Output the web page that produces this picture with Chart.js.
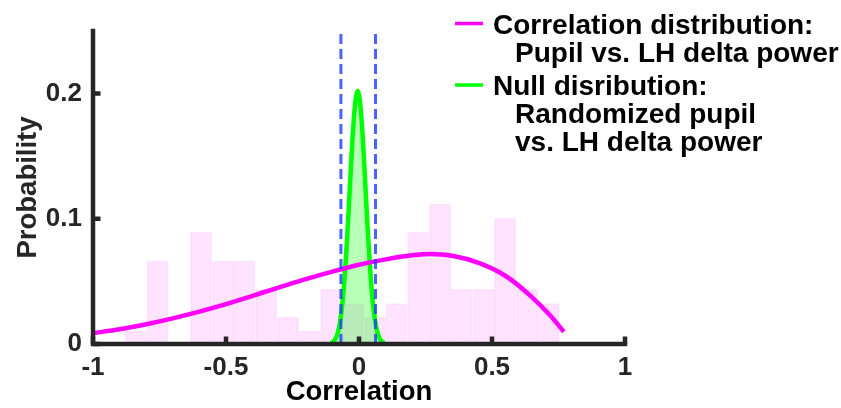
<!DOCTYPE html>
<html>
<head>
<meta charset="utf-8">
<script src="https://cdn.jsdelivr.net/npm/chart.js@4.4.1/dist/chart.umd.min.js"></script>
<style>
  html, body { margin: 0; padding: 0; background: #fff; }
</style>
</head>
<body>
<canvas id="myChart" width="841" height="408"></canvas>
<script>
// histogram of observed correlations (bin centres / probability)
const binCenters = [-0.839, -0.757, -0.676, -0.594, -0.512, -0.431, -0.349, -0.267, -0.186, -0.104,
  -0.022, 0.060, 0.141, 0.223, 0.305, 0.386, 0.468, 0.549, 0.631, 0.713];
const binProb = [0.0105, 0.0665, 0, 0.0893, 0.0665, 0.0665, 0.0438, 0.0215, 0.0105, 0.0438,
  0.0323, 0.0215, 0.0323, 0.0893, 0.112, 0.0438, 0.0438, 0.1006, 0.0438, 0.0323];

// fitted correlation distribution (magenta)
const corrX = [-1.0, -0.9, -0.8, -0.7, -0.6, -0.5, -0.4, -0.3, -0.2, -0.1,
  0.0, 0.1, 0.2, 0.27, 0.35, 0.45, 0.55, 0.65, 0.72, 0.77];
const corrY = [0.0087, 0.0118, 0.0158, 0.0205, 0.0258, 0.0318, 0.0385, 0.0452, 0.0518, 0.0578,
  0.0633, 0.0676, 0.0708, 0.0719, 0.0705, 0.0648, 0.0545, 0.0375, 0.0225, 0.0098];

// null distribution (green)
const nullX = [-0.105, -0.095, -0.085, -0.075, -0.065, -0.055, -0.045, -0.035, -0.025, -0.015, -0.005,
  0.005, 0.015, 0.025, 0.035, 0.045, 0.055, 0.065, 0.075, 0.085, 0.095];
const nullY = [0.0008, 0.0022, 0.0058, 0.0133, 0.0273, 0.0504, 0.083, 0.1226, 0.162, 0.191, 0.202,
  0.191, 0.162, 0.1226, 0.083, 0.0504, 0.0273, 0.0133, 0.0058, 0.0022, 0.0008];

// significance bounds of the null distribution
const sigBounds = [-0.068, 0.062];

const xTicks = [-1, -0.5, 0, 0.5, 1];
const yTicks = [0, 0.1, 0.2];
const yMax = 0.25;

const legendEntries = [
  { color: '#ff00ff', lines: ['Correlation distribution:', 'Pupil vs. LH delta power'] },
  { color: '#00ff00', lines: ['Null disribution:', 'Randomized pupil', 'vs. LH delta power'] },
];

const FONT = '"Liberation Sans", Arial, Helvetica, sans-serif';
const AXIS_COLOR = '#262626';

const toPoints = (xs, ys) => xs.map((v, i) => ({ x: v, y: ys[i] }));

// MATLAB style axes: thick left/bottom lines with inward ticks
const axesPlugin = {
  id: 'matlabAxes',
  afterDatasetsDraw(chart) {
    const { ctx, chartArea: a, scales } = chart;
    ctx.save();
    ctx.strokeStyle = AXIS_COLOR;
    ctx.lineWidth = 4.5;
    ctx.lineCap = 'square';
    ctx.lineJoin = 'miter';
    ctx.beginPath();
    ctx.moveTo(a.left, a.top);
    ctx.lineTo(a.left, a.bottom);
    ctx.lineTo(a.right, a.bottom);
    ctx.stroke();

    ctx.lineCap = 'butt';
    ctx.beginPath();
    xTicks.forEach((v) => {
      const px = scales.x.getPixelForValue(v);
      ctx.moveTo(px, a.bottom);
      ctx.lineTo(px, a.bottom - 7.5);
    });
    yTicks.forEach((v) => {
      const py = scales.y.getPixelForValue(v);
      ctx.moveTo(a.left, py);
      ctx.lineTo(a.left + 7.5, py);
    });
    ctx.stroke();
    ctx.restore();
  },
};

// legend drawn over the top right, with multi-line entries
const legendPlugin = {
  id: 'multiLegend',
  afterDraw(chart) {
    const { ctx } = chart;
    ctx.save();
    ctx.font = 'bold 28px ' + FONT;
    ctx.fillStyle = '#000';
    ctx.textBaseline = 'alphabetic';
    ctx.textAlign = 'left';
    const firstBaselines = [33.5, 95];
    legendEntries.forEach((entry, i) => {
      const base = firstBaselines[i];
      ctx.strokeStyle = entry.color;
      ctx.lineWidth = 3.5;
      ctx.beginPath();
      ctx.moveTo(455, base - 10);
      ctx.lineTo(483, base - 10);
      ctx.stroke();
      entry.lines.forEach((t, j) => {
        ctx.fillText(t, j === 0 ? 493 : 515, base + j * 28);
      });
    });
    ctx.restore();
  },
};

const ctx = document.getElementById('myChart').getContext('2d');
const myChart = new Chart(ctx, {
  type: 'bar',
  data: {
    datasets: [
      {
        type: 'line',
        label: 'lower bound',
        data: [{ x: sigBounds[0], y: 0 }, { x: sigBounds[0], y: yMax }],
        borderColor: 'rgba(30, 60, 255, 0.8)',
        borderWidth: 3,
        borderDash: [10, 5],
        pointRadius: 0,
        order: 0,
      },
      {
        type: 'line',
        label: 'upper bound',
        data: [{ x: sigBounds[1], y: 0 }, { x: sigBounds[1], y: yMax }],
        borderColor: 'rgba(30, 60, 255, 0.8)',
        borderWidth: 3,
        borderDash: [10, 5],
        pointRadius: 0,
        order: 0,
      },
      {
        type: 'line',
        label: 'Correlation distribution',
        data: toPoints(corrX, corrY),
        borderColor: '#ff00ff',
        borderWidth: 4.5,
        pointRadius: 0,
        cubicInterpolationMode: 'monotone',
        order: 1,
      },
      {
        type: 'line',
        label: 'Null distribution',
        data: toPoints(nullX, nullY),
        borderColor: '#00ff00',
        backgroundColor: 'rgba(0, 255, 0, 0.28)',
        fill: 'origin',
        borderWidth: 4.5,
        pointRadius: 0,
        cubicInterpolationMode: 'monotone',
        order: 2,
      },
      {
        type: 'bar',
        label: 'Observed',
        data: toPoints(binCenters, binProb),
        backgroundColor: 'rgba(255, 0, 255, 0.11)',
        borderColor: 'rgba(240, 120, 240, 0.12)',
        borderWidth: 1,
        barPercentage: 1,
        categoryPercentage: 1,
        order: 3,
      },
    ],
  },
  options: {
    responsive: false,
    animation: false,
    events: [],
    layout: { padding: { top: 31, right: 216, left: 0, bottom: 0 } },
    plugins: {
      legend: { display: false },
      tooltip: { enabled: false },
    },
    scales: {
      x: {
        type: 'linear',
        min: -1,
        max: 1,
        offset: false,
        grid: { display: false, drawTicks: false },
        border: { display: false },
        afterBuildTicks: (scale) => { scale.ticks = xTicks.map((v) => ({ value: v })); },
        afterFit: (scale) => { scale.height = 64; },
        ticks: {
          padding: 8,
          color: AXIS_COLOR,
          font: { family: FONT, size: 26, weight: 'bold' },
          callback: (v) => String(v),
        },
        title: {
          display: true,
          text: 'Correlation',
          color: '#000',
          padding: { top: 0, bottom: -1 },
          font: { family: FONT, size: 27.5, weight: 'bold' },
        },
      },
      y: {
        type: 'linear',
        min: 0,
        max: yMax,
        grid: { display: false, drawTicks: false },
        border: { display: false },
        afterBuildTicks: (scale) => { scale.ticks = yTicks.map((v) => ({ value: v })); },
        afterFit: (scale) => { scale.width = 93; },
        ticks: {
          padding: 11,
          color: AXIS_COLOR,
          font: { family: FONT, size: 26, weight: 'bold' },
          callback: (v) => String(v),
        },
        title: {
          display: true,
          text: 'Probability',
          color: AXIS_COLOR,
          padding: { top: 12, bottom: 0 },
          font: { family: FONT, size: 27.5, weight: 'bold' },
        },
      },
    },
  },
  plugins: [axesPlugin, legendPlugin],
});
</script>
</body>
</html>
